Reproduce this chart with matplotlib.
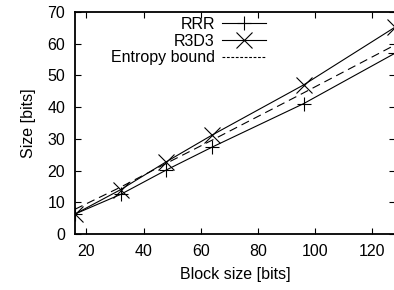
import numpy as np
import matplotlib
matplotlib.use('Agg')
import matplotlib.pyplot as plt

plt.rcParams['font.family'] = ['Liberation Sans', 'DejaVu Sans']
plt.rcParams['font.size'] = 11.5

# block size [bits]
block = [16, 32, 48, 64, 96, 128]
rrr = [6.3, 12.5, 20.2, 27.4, 41.1, 57.0]
r3d3 = [6.3, 14.0, 22.8, 31.2, 47.0, 65.2]
entropy = [7.8, 14.8, 22.3, 29.6, 44.5, 59.6]

W, H = 394, 290
fig = plt.figure(figsize=(W/100, H/100), dpi=100)
ax = fig.add_axes([75/W, 56/H, 320/W, 222/H])

ax.plot(block, rrr, 'k-', lw=0.8, marker='+', ms=10, mew=0.8, label='RRR')
ax.plot(block, r3d3, 'k-', lw=0.8, marker='x', ms=11, mew=0.8, label='R3D3')
ax.plot(block, entropy, 'k--', lw=0.8, dashes=(7.5, 4.5), label='Entropy bound')

ax.set_xlim(16, 128)
ax.set_ylim(0, 70)
ax.set_xticks([20, 40, 60, 80, 100, 120])
ax.set_yticks(range(0, 71, 10))
ax.tick_params(direction='in', top=True, right=True, length=4, width=0.8, pad=7)
for s in ax.spines.values():
    s.set_linewidth(1.3)

ax.set_xlabel('Block size [bits]', labelpad=6)
ax.set_ylabel('Size [bits]', labelpad=8)

leg = ax.legend(loc='upper right', bbox_to_anchor=(266/W, 1-17/H),
                bbox_transform=fig.transFigure, frameon=False, markerfirst=False,
                numpoints=1, handlelength=2.75, handletextpad=0.45,
                labelspacing=0.1, borderpad=0, borderaxespad=0)
leg.get_lines()[2].set_dashes((2.5, 1.5))  # gnuplot key shows finer dashes

fig.savefig('out.png', dpi=100)
